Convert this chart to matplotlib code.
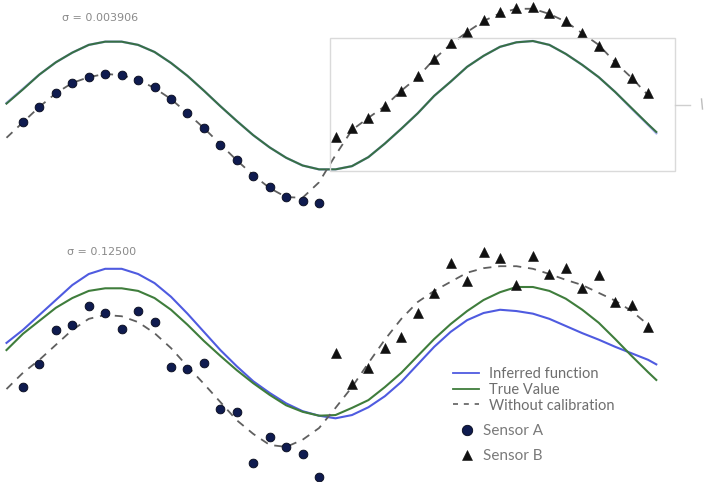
import matplotlib
matplotlib.use("Agg")
import matplotlib.pyplot as plt
from matplotlib.lines import Line2D
from matplotlib.patches import Rectangle

# ---------------- data ----------------
curve_x = [0, 1, 2, 3, 4, 5, 6, 7, 8, 9, 10, 11, 12, 13, 14, 15, 16, 17, 18, 19,
           20, 21, 22, 23, 24, 25, 26, 27, 28, 29, 30, 31, 32, 33, 34, 35, 36, 37, 38, 39, 39.5]
sensor_a_x = [1, 2, 3, 4, 5, 6, 7, 8, 9, 10, 11, 12, 13, 14, 15, 16, 17, 18, 19]
sensor_b_x = [20, 21, 22, 23, 24, 25, 26, 27, 28, 29, 30, 31, 32, 33, 34, 35, 36, 37, 38, 39]

# top panel (sigma = 0.003906)
top_true = [0.03, 0.25, 0.48, 0.67, 0.82, 0.94, 0.99, 0.99, 0.94, 0.83, 0.66, 0.46, 0.23, -0.01,
            -0.24, -0.46, -0.65, -0.81, -0.93, -0.99, -0.99, -0.94, -0.80, -0.59, -0.36, -0.12,
            0.15, 0.37, 0.60, 0.77, 0.91, 0.98, 1.00, 0.94, 0.80, 0.63, 0.44, 0.21, -0.04, -0.29, -0.41]
top_inferred = [0.04, 0.26, 0.48, 0.67, 0.82, 0.94, 0.99, 0.99, 0.94, 0.83, 0.66, 0.46, 0.23, -0.01,
                -0.24, -0.46, -0.65, -0.81, -0.93, -0.99, -0.99, -0.94, -0.80, -0.59, -0.36, -0.12,
                0.15, 0.37, 0.60, 0.77, 0.91, 0.98, 1.00, 0.94, 0.80, 0.63, 0.44, 0.21, -0.05, -0.30, -0.43]
top_uncal = [-0.50, -0.26, -0.02, 0.19, 0.35, 0.44, 0.49, 0.47, 0.40, 0.27, 0.10, -0.12, -0.35, -0.60,
             -0.85, -1.08, -1.28, -1.42, -1.43, -1.19, -0.77, -0.38, -0.19, -0.01, 0.23, 0.44,
             0.72, 0.95, 1.14, 1.31, 1.43, 1.50, 1.50, 1.42, 1.30, 1.12, 0.94, 0.67, 0.43, 0.16, 0.07]
top_sensor_a = [-0.26, -0.02, 0.19, 0.35, 0.44, 0.49, 0.47, 0.40, 0.29, 0.10, -0.12, -0.35, -0.61,
                -0.85, -1.09, -1.26, -1.42, -1.48, -1.51]
top_sensor_b = [-0.49, -0.35, -0.19, -0.01, 0.23, 0.46, 0.72, 0.97, 1.14, 1.33, 1.45, 1.51, 1.53,
                1.43, 1.31, 1.12, 0.92, 0.67, 0.43, 0.19]

# bottom panel (sigma = 0.12500)
bot_true = [0.03, 0.28, 0.48, 0.68, 0.83, 0.94, 0.98, 0.98, 0.94, 0.83, 0.65, 0.42, 0.17, -0.06,
            -0.28, -0.48, -0.66, -0.82, -0.92, -0.98, -0.97, -0.86, -0.74, -0.54, -0.32, -0.06,
            0.20, 0.43, 0.63, 0.80, 0.92, 1.00, 1.00, 0.94, 0.82, 0.65, 0.45, 0.20, -0.06, -0.31, -0.43]
bot_inferred = [0.14, 0.34, 0.57, 0.80, 1.03, 1.20, 1.28, 1.28, 1.20, 1.06, 0.85, 0.59, 0.31, 0.03,
                -0.22, -0.45, -0.63, -0.79, -0.91, -0.98, -1.02, -0.97, -0.85, -0.68, -0.46, -0.19,
                0.08, 0.31, 0.49, 0.60, 0.65, 0.63, 0.59, 0.51, 0.40, 0.29, 0.19, 0.08, -0.02, -0.12, -0.19]
bot_uncal = [-0.57, -0.32, -0.12, 0.11, 0.34, 0.51, 0.57, 0.55, 0.46, 0.29, 0.06, -0.22, -0.49, -0.77,
             -1.05, -1.26, -1.43, -1.46, -1.35, -1.17, -0.86, -0.54, -0.17, 0.19, 0.51, 0.77,
             0.94, 1.08, 1.22, 1.29, 1.32, 1.32, 1.28, 1.20, 1.11, 1.03, 0.91, 0.79, 0.63, 0.42]
bot_sensor_a = [-0.54, -0.19, 0.34, 0.42, 0.71, 0.60, 0.35, 0.63, 0.46, -0.23, -0.26, -0.17, -0.88,
                -0.92, -1.71, -1.31, -1.46, -1.57, -1.92]
bot_sensor_b = [-0.02, -0.49, -0.25, 0.06, 0.23, 0.60, 0.91, 1.37, 1.09, 1.54, 1.45, 1.03, 1.48,
                1.20, 1.29, 0.99, 1.19, 0.77, 0.72, 0.39]

panel_titles = ["σ = 0.003906", "σ = 0.12500"]
line_labels = ["Inferred function", "True Value", "Without calibration"]
sensor_labels = ["Sensor A", "Sensor B"]

# ---------------- style ----------------
BLUE = "#4f5be0"
GREEN = "#3f7d3c"
DASH = "#5f5f5f"
NAVY = "#0f1b4f"
TRI = "#111111"
TXT = "#6e6e6e"

W, H = 704, 482
fig = plt.figure(figsize=(W / 100, H / 100), dpi=100)
fig.patch.set_facecolor("white")

ax_top = fig.add_axes([0, 1 - 230 / H, 1, 230 / H])
ax_bot = fig.add_axes([0, 0, 1, 252 / H])

for ax in (ax_top, ax_bot):
    ax.set_axis_off()
    ax.set_xlim(-0.395, 42.40)
ax_top.set_ylim(-1.930, 1.636)
ax_bot.set_ylim(-2.0, 1.877)

dash_kw = dict(color=DASH, lw=1.3, dashes=(4.5, 3.8))
a_kw = dict(ls="none", marker="o", ms=6.3, mfc=NAVY, mec="#05081a", mew=0.6)
b_kw = dict(ls="none", marker="^", ms=6.5, mfc=TRI, mec=TRI, mew=0.4)

# top
ax_top.plot(curve_x, top_inferred, color=BLUE, lw=1.7, alpha=0.45)
ax_top.plot(curve_x, top_true, color="#376f45", lw=1.5)
ax_top.plot(curve_x, top_uncal, **dash_kw)
ax_top.plot(sensor_a_x, top_sensor_a, **a_kw)
ax_top.plot(sensor_b_x, top_sensor_b, **b_kw)

# bottom
ax_bot.plot(curve_x, bot_inferred, color=BLUE, lw=1.5)
ax_bot.plot(curve_x, bot_true, color=GREEN, lw=1.5)
ax_bot.plot(curve_x[:len(bot_uncal)], bot_uncal, **dash_kw)
ax_bot.plot(sensor_a_x, bot_sensor_a, **a_kw)
ax_bot.plot(sensor_b_x, bot_sensor_b, **b_kw)

# titles
fig.text(100 / W, 1 - 18 / H, panel_titles[0], ha="center", va="center",
         fontsize=8, color="#8a8a8a", family="DejaVu Sans")
fig.text(102 / W, 1 - 252 / H, panel_titles[1], ha="center", va="center",
         fontsize=8, color="#8a8a8a", family="DejaVu Sans")

# decorative frame in top panel
fig.add_artist(Rectangle((330 / W, 1 - 171 / H), 345 / W, 133 / H, transform=fig.transFigure,
                         fill=False, ec="#dadada", lw=1.0))
fig.add_artist(Line2D([675 / W, 690 / W], [1 - 105 / H, 1 - 105 / H], transform=fig.transFigure,
                      color="#cfcfcf", lw=1.0))
fig.add_artist(Line2D([701.5 / W, 702.5 / W], [1 - 99 / H, 1 - 109 / H], transform=fig.transFigure,
                      color="#bdbdbd", lw=1.0))

# legends
h_lines = [Line2D([], [], color=BLUE, lw=1.3),
           Line2D([], [], color=GREEN, lw=1.3),
           Line2D([], [], color=DASH, lw=1.2, dashes=(3, 3.5))]
leg1 = ax_bot.legend(h_lines, line_labels, loc="upper left",
                     bbox_to_anchor=(453 / W, 1 - 367 / H), bbox_transform=fig.transFigure,
                     frameon=False, borderpad=0, borderaxespad=0, handlelength=1.8,
                     handletextpad=0.7, labelspacing=0.12,
                     prop=dict(family="Lato", size=10.5))
for t in leg1.get_texts():
    t.set_color(TXT)
ax_bot.add_artist(leg1)

h_marks = [Line2D([], [], **a_kw), Line2D([], [], **b_kw)]
h_marks[0].set_markersize(7.5)
h_marks[1].set_markersize(7.5)
leg2 = ax_bot.legend(h_marks, sensor_labels, loc="upper left",
                     bbox_to_anchor=(459 / W, 1 - 424 / H), bbox_transform=fig.transFigure,
                     frameon=False, borderpad=0, borderaxespad=0, handlelength=1.0,
                     handletextpad=0.6, labelspacing=0.75,
                     prop=dict(family="Lato", size=11))
for t in leg2.get_texts():
    t.set_color("#7a7a7a")

fig.savefig("out.png", dpi=100, facecolor="white")
